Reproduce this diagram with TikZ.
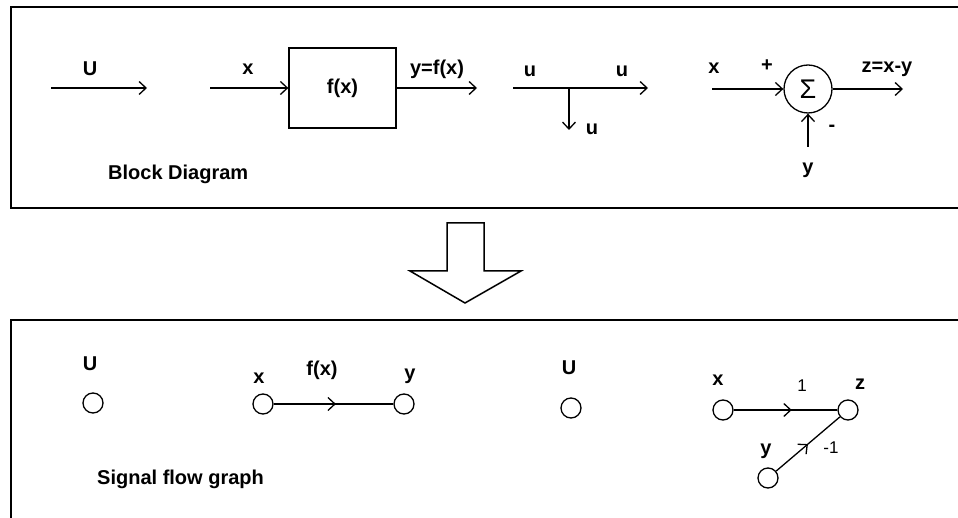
\documentclass[tikz,border=0pt]{standalone}
\usepackage{fontspec}
\setmainfont{Liberation Sans}
\usetikzlibrary{arrows.meta,decorations.markings}
\tikzset{
  lbl/.style={font=\fontsize{20}{23}\selectfont\bfseries, inner sep=0pt},
  capt/.style={font=\fontsize{20}{24}\selectfont\bfseries, inner sep=0pt, anchor=west},
  num/.style={font=\fontsize{17}{20}\selectfont, inner sep=0pt},
  wire/.style={line width=1.3pt, -{Straight Barb[length=7pt,width=13pt,line width=1.3pt]}},
  frame/.style={line width=2pt},
  sfgnode/.style={circle, draw, line width=1.3pt, minimum size=20pt, inner sep=0pt},
  midarrow/.style={line width=1.3pt, postaction={decorate},
    decoration={markings, mark=at position #1 with {\arrow{Straight Barb[length=7pt,width=13pt,line width=1.3pt]}}}},
}
\begin{document}
\begin{tikzpicture}[x=1pt,y=-1pt]
\useasboundingbox (0,0) rectangle (958,518);
% frames
\draw[frame] (958,7) -- (11,7) -- (11,208) -- (958,208);
\draw[frame] (958,320) -- (11,320) -- (11,518);
% big hollow arrow
\draw[line width=1.5pt, line join=miter] (447,223) -- (484,223) -- (484,271) -- (521,271) -- (465,303) -- (410,271) -- (447,271) -- cycle;

% ---------- Block diagram ----------
\coordinate (ua) at (51,88);
\coordinate (ub) at (147,88);
\draw[wire] (ua) -- (ub);
\node[lbl] (lU) at (90,69) {U};

\node[draw, line width=1.3pt, minimum width=107pt, minimum height=80pt, inner sep=0pt,
      font=\fontsize{20}{23}\selectfont\bfseries] (fbox) at (342.5,88) {f(x)};
\coordinate (xa) at (210,88);
\draw[wire] (xa) -- (fbox.west);
\node[lbl] (lx) at (248,69) {x};
\coordinate (ya) at (477,88);
\draw[wire] (fbox.east) -- (ya);
\node[lbl] (ly) at (437,69) {y=f(x)};

\coordinate (ba) at (513,88);
\coordinate (bb) at (648,88);
\coordinate (bp) at (569,88);
\coordinate (bd) at (569,130);
\draw[wire] (ba) -- (bb);
\draw[wire] (bp) -- (bd);
\node[lbl] (lu1) at (530,71) {u};
\node[lbl] (lu2) at (622,71) {u};
\node[lbl] (lu3) at (592,129) {u};

\node[circle, draw, line width=1.3pt, minimum size=48pt, inner sep=0pt,
      font=\fontsize{27}{28}\selectfont] (sum) at (808,89) {Σ};
\coordinate (sx) at (712,89);
\draw[wire] (sx) -- (sum.west);
\node[lbl] (lsx) at (714,68) {x};
\node[lbl] (lplus) at (767,66) {+};
\coordinate (sz) at (903,89);
\draw[wire] (sum.east) -- (sz);
\node[lbl] (lz) at (887,69) {z=x-y};
\coordinate (sy) at (808,147);
\draw[wire] (sy) -- (sum.south);
\node[lbl] (lsy) at (808,170) {y};
\node[lbl] (lminus) at (832,128) {-};

\node[capt] (bdcap) at (108,174) {Block Diagram};

% ---------- Signal flow graph ----------
\node[lbl] (gU1) at (90,364) {U};
\node[sfgnode] (nU1) at (93,403) {};

\node[sfgnode] (nx1) at (263,404) {};
\node[sfgnode] (ny1) at (404,404) {};
\node[lbl] (gx1) at (259,378) {x};
\node[lbl] (gy1) at (410,376) {y};
\node[lbl] (gf) at (322,370) {f(x)};
\draw[midarrow=0.52] (nx1) -- (ny1);

\node[lbl] (gU2) at (569,368) {U};
\node[sfgnode] (nU2) at (571,408) {};

\node[sfgnode] (nx2) at (723,410) {};
\node[sfgnode] (nz2) at (848,410) {};
\node[sfgnode] (ny2) at (768,478) {};
\node[lbl] (gx2) at (718,380) {x};
\node[lbl] (gz2) at (860,384) {z};
\node[lbl] (gy2) at (766,451) {y};
\node[num] (g1) at (802,386) {1};
\node[num] (gm1) at (831,448) {-1};
\draw[midarrow=0.56] (nx2) -- (nz2);
\draw[midarrow=0.5] (ny2) -- (nz2);

\node[capt] (sfg) at (97,479) {Signal flow graph};
\end{tikzpicture}
\end{document}
